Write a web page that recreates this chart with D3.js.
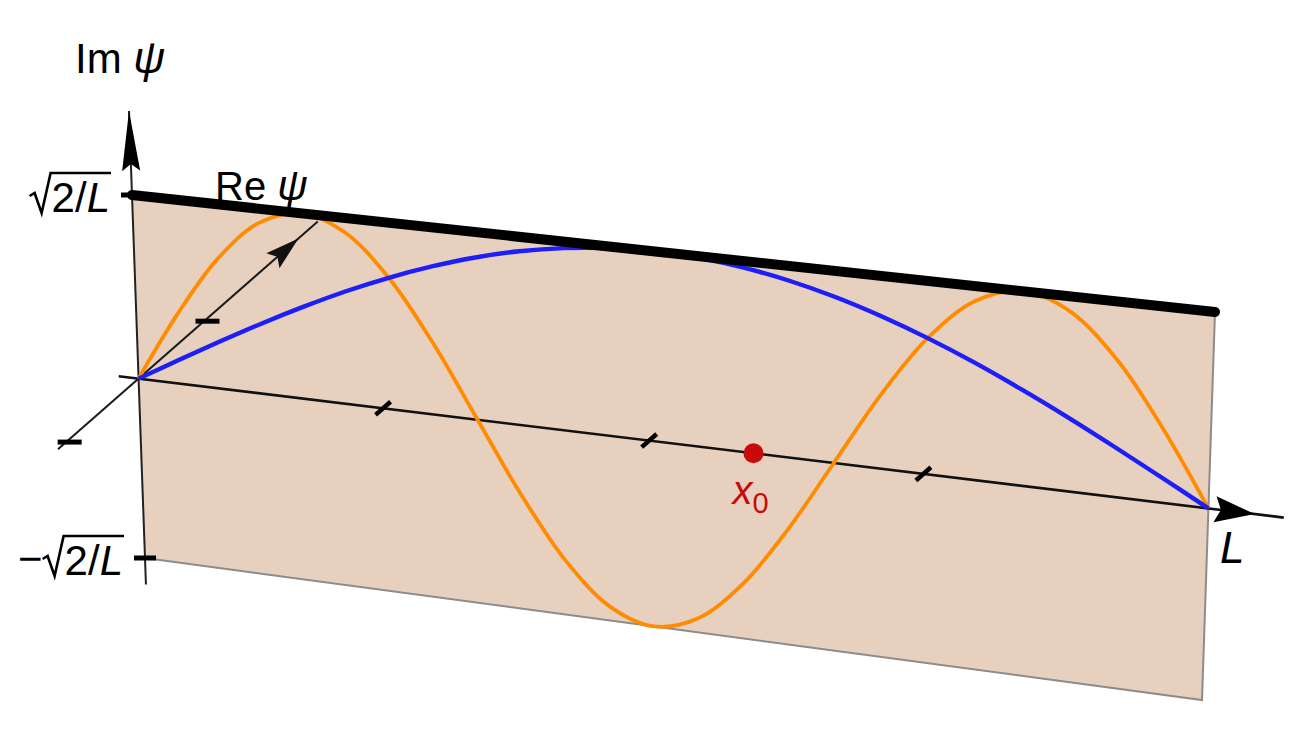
<!DOCTYPE html>
<html><head><meta charset="utf-8">
<script src="https://cdn.jsdelivr.net/npm/d3@7"></script>
<style>
html,body{margin:0;padding:0;background:#fff;}
svg{display:block;}
text{font-family:"Liberation Sans", Arial, Helvetica, sans-serif;}
</style>
</head><body>
<svg id="chart" width="1308" height="750"></svg>
<script>
// ---------- data (x in units of L, values in units of sqrt(2/L)) ----------
const xSamples = [0, 0.0417, 0.0833, 0.125, 0.1667, 0.2083, 0.25, 0.2917, 0.3333, 0.375, 0.4167, 0.4583, 0.5,
                  0.5417, 0.5833, 0.625, 0.6667, 0.7083, 0.75, 0.7917, 0.8333, 0.875, 0.9167, 0.9583, 1];
const blueValues = [0, 0.131, 0.259, 0.383, 0.500, 0.609, 0.707, 0.793, 0.866, 0.924, 0.966, 0.991, 1.000,
                    0.991, 0.966, 0.924, 0.866, 0.793, 0.707, 0.609, 0.500, 0.383, 0.259, 0.131, 0];
const orangeValues = [0, 0.383, 0.707, 0.924, 1.000, 0.924, 0.707, 0.383, 0, -0.383, -0.707, -0.924, -1.000,
                      -0.924, -0.707, -0.383, 0, 0.383, 0.707, 0.924, 1.000, 0.924, 0.707, 0.383, 0];
const xTickValues = [0.242, 0.496, 0.748];
const imTickValues = [1, -1];
const imTickLabels = ["2/L", "2/L"];
const imTickSigns = ["", "−"];
const reTickValues = [1, -1];
const x0Value = 0.593;
const imAxisLabel = ["Im ", "ψ"];
const reAxisLabel = ["Re ", "ψ"];
const xAxisLabel = "L";
const x0Label = ["x", "0"];

// ---------- projection of the tilted plane ----------
function squareToQuad(p0, p1, p2, p3) {
  const [x0, y0] = p0, [x1, y1] = p1, [x2, y2] = p2, [x3, y3] = p3;
  const sx = x0 - x1 + x2 - x3, sy = y0 - y1 + y2 - y3;
  const dx1 = x1 - x2, dx2 = x3 - x2, dy1 = y1 - y2, dy2 = y3 - y2;
  const det = dx1 * dy2 - dx2 * dy1;
  const g = (sx * dy2 - dx2 * sy) / det, h = (dx1 * sy - sx * dy1) / det;
  const a = x1 - x0 + g * x1, b = x3 - x0 + h * x3, c = x0;
  const d = y1 - y0 + g * y1, e = y3 - y0 + h * y3, f = y0;
  return (s, t) => { const w = g * s + h * t + 1; return [(a * s + b * t + c) / w, (d * s + e * t + f) / w]; };
}
const H = squareToQuad([132, 195], [1215, 312], [1202, 700], [145, 558]);
const uScale = d3.scaleLinear().domain([0, 1]).range([0, 1]);
const vScale = d3.scaleLinear().domain([1, -1]).range([0, 1]);
const P = (u, v) => H(uScale(u), vScale(v));

const origin = P(0, 0);
const reDir = [179, -157];
const reScale = d3.scaleLinear().domain([0, 1]).range([0, 0.385]);
const R = r => [origin[0] + reDir[0] * reScale(r), origin[1] + reDir[1] * reScale(r)];

function unit(v) { const l = Math.hypot(v[0], v[1]); return [v[0] / l, v[1] / l]; }
function arrowHead(tip, dir, len, hw, notch) {
  const [dx, dy] = unit(dir), nx = -dy, ny = dx;
  const bx = tip[0] - dx * len, by = tip[1] - dy * len;
  return [tip, [bx + nx * hw, by + ny * hw], [tip[0] - dx * (len - notch), tip[1] - dy * (len - notch)], [bx - nx * hw, by - ny * hw]];
}

const svg = d3.select("#chart");
const line = d3.line();

// plane
svg.append("path")
  .attr("d", line([P(0, 1), P(1, 1), P(1, -1), P(0, -1)]) + "Z")
  .attr("fill", "#e8d0bf");
svg.append("path")
  .attr("d", line([P(1, 1), P(1, -1), P(0, -1)]))
  .attr("fill", "none").attr("stroke", "#8c8c8c").attr("stroke-width", 2);

// Re axis
svg.append("path").attr("d", line([R(-1.17), R(2.6)]))
  .attr("stroke", "#1a1a1a").attr("stroke-width", 2).attr("fill", "none");
svg.selectAll(".retick").data(reTickValues).join("line")
  .attr("x1", d => R(d)[0] - 12).attr("x2", d => R(d)[0] + 12)
  .attr("y1", d => R(d)[1] + 3).attr("y2", d => R(d)[1] + 3)
  .attr("stroke", "#000").attr("stroke-width", 5);
svg.append("path").attr("d", line(arrowHead(R(2.32), reDir, 34, 10, 6)) + "Z").attr("fill", "#111");

// x axis
svg.append("path").attr("d", line([P(-0.02, 0), P(1.065, 0)]))
  .attr("stroke", "#111").attr("stroke-width", 2.6).attr("fill", "none");
const ru = unit(reDir);
svg.selectAll(".xtick").data(xTickValues).join("line")
  .attr("x1", d => P(d, 0)[0] - ru[0] * 10).attr("y1", d => P(d, 0)[1] - ru[1] * 10)
  .attr("x2", d => P(d, 0)[0] + ru[0] * 10).attr("y2", d => P(d, 0)[1] + ru[1] * 10)
  .attr("stroke", "#000").attr("stroke-width", 4.5);
{
  const tip = P(1.04, 0), back = P(1.0, 0);
  svg.append("path").attr("d", line(arrowHead(tip, [tip[0] - back[0], tip[1] - back[1]], 40, 13, 6)) + "Z").attr("fill", "#000");
}

// Im axis
svg.append("path").attr("d", line([P(0, -1.15), P(0, 1.45)]))
  .attr("stroke", "#222").attr("stroke-width", 2).attr("fill", "none");
{
  const tip = P(0, 1.45), back = P(0, 1.2);
  svg.append("path").attr("d", line(arrowHead(tip, [tip[0] - back[0], tip[1] - back[1]], 60, 9, 7)) + "Z").attr("fill", "#000");
}
svg.selectAll(".imtick").data(imTickValues).join("line")
  .attr("x1", d => P(0, d)[0] - 11).attr("x2", d => P(0, d)[0] + 11)
  .attr("y1", d => P(0, d)[1]).attr("y2", d => P(0, d)[1])
  .attr("stroke", "#000").attr("stroke-width", 5);

// curves
const curveLine = d3.line().curve(d3.curveCatmullRom.alpha(0.5));
svg.append("path")
  .attr("d", curveLine(xSamples.map((x, i) => P(x, orangeValues[i]))))
  .attr("fill", "none").attr("stroke", "#ff8c00").attr("stroke-width", 3.8);
svg.append("path")
  .attr("d", curveLine(xSamples.map((x, i) => P(x, blueValues[i]))))
  .attr("fill", "none").attr("stroke", "#1e1ef8").attr("stroke-width", 4.4);

// thick top edge
svg.append("path").attr("d", line([P(0, 1), P(1, 1)]))
  .attr("stroke", "#000").attr("stroke-width", 10).attr("fill", "none").attr("stroke-linecap", "round");

// x0 point
const px0 = P(x0Value, 0);
svg.append("circle").attr("cx", px0[0]).attr("cy", px0[1]).attr("r", 10).attr("fill", "#c80a0a");
{
  const t = svg.append("text").attr("x", px0[0] - 21).attr("y", px0[1] + 51).attr("fill", "#c80a0a").attr("font-size", 40);
  t.append("tspan").attr("font-style", "italic").text(x0Label[0]);
  t.append("tspan").attr("font-size", 29).attr("dy", 9).text(x0Label[1]);
}

// labels
{
  const t = svg.append("text").attr("x", 75).attr("y", 73).attr("font-size", 42).attr("fill", "#000");
  t.append("tspan").text(imAxisLabel[0]);
  t.append("tspan").attr("font-style", "italic").attr("font-size", 44).text(imAxisLabel[1]);
}
{
  const t = svg.append("text").attr("x", 215).attr("y", 200).attr("font-size", 40).attr("fill", "#000");
  t.append("tspan").text(reAxisLabel[0]);
  t.append("tspan").attr("font-style", "italic").attr("font-size", 42).text(reAxisLabel[1]);
}
svg.append("text").attr("x", 1220).attr("y", 563).attr("font-size", 44).attr("font-style", "italic").text(xAxisLabel);

// Im tick labels with radical
imTickValues.forEach((v, i) => {
  const p = P(0, v);
  const right = p[0] - 22, base = p[1] + 17;
  const t = svg.append("text").attr("x", right).attr("y", base).attr("font-size", 42).attr("text-anchor", "end");
  t.append("tspan").text(imTickLabels[i].slice(0, 2));
  t.append("tspan").attr("font-style", "italic").text(imTickLabels[i].slice(2));
  const bb = t.node().getBBox();
  const left = bb.x - 2, top = base - 39;
  svg.append("path")
    .attr("d", `M${left - 20},${base - 16} L${left - 15},${base - 19} L${left - 8},${base + 1} L${left + 1},${top} L${right + 1},${top}`)
    .attr("fill", "none").attr("stroke", "#000").attr("stroke-width", 2.6).attr("stroke-linejoin", "miter");
  if (imTickSigns[i]) {
    svg.append("text").attr("x", left - 20).attr("y", base - 2).attr("font-size", 42).attr("text-anchor", "end").text(imTickSigns[i]);
  }
});
</script>
</body></html>
